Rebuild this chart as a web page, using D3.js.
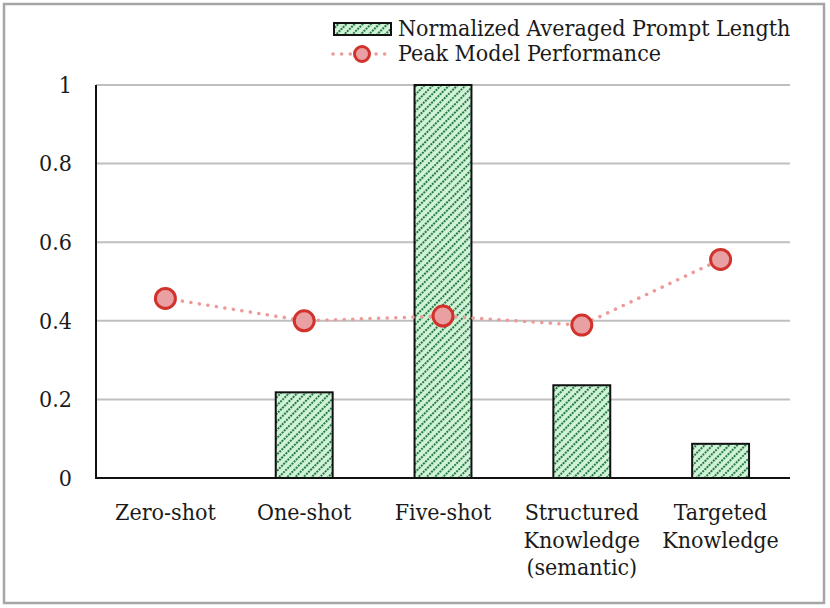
<!DOCTYPE html>
<html><head><meta charset="utf-8">
<script src="https://cdn.jsdelivr.net/npm/d3@7"></script>
<style>body{margin:0;background:#fff}svg text{font-family:"DejaVu Serif Condensed","DejaVu Serif",serif;fill:#1a1a1a}</style>
</head><body><svg id="c" width="830" height="608"></svg>
<script>
const categories = [["Zero-shot"],["One-shot"],["Five-shot"],["Structured","Knowledge","(semantic)"],["Targeted","Knowledge"]];
const promptLength = [0, 0.218, 1.0, 0.236, 0.087];
const peakPerformance = [0.457, 0.400, 0.412, 0.389, 0.556];
const yTicks = [0, 0.2, 0.4, 0.6, 0.8, 1];
const yTickLabels = ["0","0.2","0.4","0.6","0.8","1"];
const seriesNames = ["Normalized Averaged Prompt Length","Peak Model Performance"];

const FS = 23;
const svg = d3.select("#c");
const defs = svg.append("defs");
const pat = defs.append("pattern").attr("id","hatch").attr("patternUnits","userSpaceOnUse")
  .attr("width",5.8).attr("height",6).attr("patternTransform","rotate(45)");
pat.append("rect").attr("width",5.8).attr("height",6).attr("fill","#d0f2d8");
pat.append("line").attr("x1",1).attr("y1",0).attr("x2",1).attr("y2",6).attr("stroke","#267a40").attr("stroke-width",2).attr("stroke-dasharray","2,1");

svg.append("rect").attr("x",4).attr("y",4).attr("width",820).attr("height",599).attr("fill","#fff").attr("stroke","#a6a6a6").attr("stroke-width",2.5);

const x = d3.scaleBand().domain(d3.range(categories.length)).range([96,790]).paddingInner(0.59).paddingOuter(0.295);
const xc = i => x(i) + x.bandwidth()/2;
const y = d3.scaleLinear().domain([0,1]).range([478,85]);

// gridlines
svg.append("g").selectAll("line").data(yTicks.filter(d=>d>0)).join("line")
  .attr("x1",96).attr("x2",790).attr("y1",d=>y(d)).attr("y2",d=>y(d)).attr("stroke","#bfbfbf").attr("stroke-width",2);

// y axis
const yAxis = d3.axisLeft(y).tickValues(yTicks).tickFormat((d,i)=>yTickLabels[i]).tickSize(0).tickPadding(24);
const ga = svg.append("g").attr("transform","translate(96,0)").call(yAxis);
ga.select(".domain").remove();
ga.attr("font-family",null).attr("font-size",null);
ga.selectAll("text").attr("font-size",FS).attr("dy","0.32em");

// bars
svg.append("g").selectAll("rect").data(promptLength.map((v,i)=>({v,i})).filter(d=>d.v>0)).join("rect")
  .attr("x",d=>x(d.i)).attr("width",x.bandwidth())
  .attr("y",d=>y(d.v)).attr("height",d=>y(0)-y(d.v))
  .attr("fill","url(#hatch)").attr("stroke","#111").attr("stroke-width",2);

// axes lines
svg.append("line").attr("x1",96).attr("x2",96).attr("y1",85).attr("y2",478).attr("stroke","#111").attr("stroke-width",2);
svg.append("line").attr("x1",95).attr("x2",790).attr("y1",478).attr("y2",478).attr("stroke","#111").attr("stroke-width",2);

// line
const line = d3.line().x((d,i)=>xc(i)).y(d=>y(d));
svg.append("path").datum(peakPerformance).attr("d",line).attr("fill","none")
  .attr("stroke","#ec9a9a").attr("stroke-width",3.5).attr("stroke-linecap","round").attr("stroke-dasharray","0.1,8.5");
svg.append("g").selectAll("circle").data(peakPerformance).join("circle")
  .attr("cx",(d,i)=>xc(i)).attr("cy",d=>y(d)).attr("r",10)
  .attr("fill","#e9a0a2").attr("stroke","#d1322c").attr("stroke-width",3);

// x labels
const xl = svg.append("g");
categories.forEach((lines,i)=>{
  const t = xl.append("text").attr("x",xc(i)).attr("y",520).attr("text-anchor","middle").attr("font-size",FS);
  lines.forEach((s,j)=>t.append("tspan").attr("x",xc(i)).attr("dy",j?27.5:0).text(s));
});

// legend
const lg = svg.append("g");
lg.append("rect").attr("x",334).attr("y",23).attr("width",57).attr("height",12).attr("fill","url(#hatch)").attr("stroke","#111").attr("stroke-width",2);
lg.append("text").attr("x",398).attr("y",36).attr("font-size",FS).text(seriesNames[0]);
lg.append("line").attr("x1",333).attr("x2",391).attr("y1",54).attr("y2",54).attr("stroke","#ec9a9a").attr("stroke-width",3.5).attr("stroke-linecap","round").attr("stroke-dasharray","0.1,8.5");
lg.append("circle").attr("cx",362).attr("cy",54).attr("r",7.5).attr("fill","#e9a0a2").attr("stroke","#d1322c").attr("stroke-width",3);
lg.append("text").attr("x",398).attr("y",61).attr("font-size",FS).text(seriesNames[1]);
</script></body></html>
